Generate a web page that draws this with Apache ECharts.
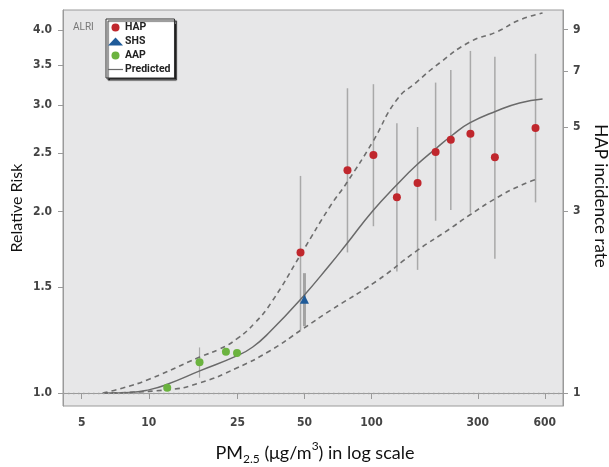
<!DOCTYPE html>
<html><head><meta charset="utf-8">
<script src="https://cdn.jsdelivr.net/npm/echarts@6/dist/echarts.min.js"></script>
<style>html,body{margin:0;padding:0;background:#fff}#c{width:609px;height:467px}</style>
</head><body><div id="c"></div>
<script>
// ---- data ----
const xTicks = [5, 10, 25, 50, 100, 300, 600];
const rrTicks = [1.0, 1.5, 2.0, 2.5, 3.0, 3.5, 4.0];
const rateTicks = [1, 3, 5, 7, 9];
const xRange = [4.12, 724];
const rrRange = [0.9516, 4.314];
const rateRange = [0.9245, 10.14];

const hapPM = [48, 78, 102, 130, 161, 194, 227, 278, 358, 545];
const hapRR = [1.71, 2.34, 2.48, 2.11, 2.23, 2.51, 2.63, 2.69, 2.46, 2.75];
const hapLo = [1.27, 1.71, 1.89, 1.59, 1.60, 1.93, 2.01, 1.99, 1.67, 2.07];
const hapHi = [2.29, 3.20, 3.25, 2.80, 2.76, 3.27, 3.43, 3.69, 3.61, 3.65];

const shsPM = [50];
const shsRR = [1.43];
const shsLo = [1.29];
const shsHi = [1.58];

const aapPM = [12.1, 16.9, 22.2, 24.9];
const aapRR = [1.02, 1.125, 1.17, 1.165];
const aapBarPM = [16.9];
const aapBarLo = [1.06];
const aapBarHi = [1.19];

const predPM = [6.22, 8.22, 10.1, 12.04, 16.93, 24.83, 29.3, 34.9, 49.1, 64.9, 77.3, 101.2, 129.6, 159.4, 196, 231, 276, 364, 462, 586];
const predRR = [1.0, 1.002, 1.013, 1.033, 1.088, 1.152, 1.192, 1.262, 1.443, 1.630, 1.766, 2.003, 2.212, 2.387, 2.548, 2.677, 2.803, 2.934, 3.025, 3.071];

const upperPM = [6.22, 7.64, 10.1, 16.93, 20.82, 24.83, 29.9, 35.6, 48.6, 64.9, 77.3, 101.2, 129.6, 159.4, 202, 276, 364, 462, 586];
const upperRR = [1.0, 1.019, 1.055, 1.147, 1.183, 1.229, 1.306, 1.415, 1.707, 2.034, 2.229, 2.607, 3.060, 3.277, 3.524, 3.818, 3.967, 4.153, 4.265];

const lowerPM = [6.22, 12.04, 16.93, 24.83, 34.9, 49.1, 64.9, 105.4, 159.4, 224, 276, 364, 462, 556];
const lowerRR = [1.0, 1.012, 1.039, 1.100, 1.174, 1.277, 1.368, 1.533, 1.720, 1.870, 1.973, 2.105, 2.204, 2.263];

// ---- helpers ----
const L = Math.log;
function fmtFrom(ticks, dec) {
  return function (v) {
    for (const t of ticks) if (Math.abs(L(t) - v) < 1e-6) return dec ? t.toFixed(dec) : String(t);
    return '';
  };
}
function pairs(xs, ys) { return xs.map((x, i) => [L(x), L(ys[i])]); }
function barData(xs, lo, hi) { return xs.map((x, i) => [L(x), L(lo[i]), L(hi[i])]); }
function barRenderer(color, width) {
  return function (params, api) {
    const p1 = api.coord([api.value(0), api.value(1)]);
    const p2 = api.coord([api.value(0), api.value(2)]);
    return { type: 'line', shape: { x1: p1[0], y1: p1[1], x2: p2[0], y2: p2[1] },
             style: { stroke: color, lineWidth: width } };
  };
}

const tickFont = "'Liberation Sans Narrow', 'DejaVu Sans Condensed', sans-serif";
const legendFont = "'Liberation Sans Narrow', Roboto, sans-serif";
const titleFont = "Lato, 'Open Sans', sans-serif";

const chart = echarts.init(document.getElementById('c'), null, { renderer: 'canvas' });
chart.setOption({
  animation: false,
  backgroundColor: '#ffffff',
  title: { text: 'ALRI', left: 68, top: 17,
           textStyle: { fontSize: 10, color: '#777', fontWeight: 'normal', fontFamily: legendFont } },
  legend: {
    data: [
      { name: 'HAP', icon: 'circle' },
      { name: 'SHS', icon: 'triangle' },
      { name: 'AAP', icon: 'circle' },
      { name: 'Predicted', icon: 'path://M0,0 L16,0 L16,1.3 L0,1.3 Z' }
    ],
    orient: 'vertical', left: 106, top: 19,
    backgroundColor: '#ffffff', borderColor: '#333', borderWidth: 1,
    shadowColor: 'rgba(0,0,0,0.85)', shadowBlur: 1, shadowOffsetX: 2, shadowOffsetY: 2,
    padding: [3, 4, 3, 2], itemGap: 3, itemWidth: 15, itemHeight: 8,
    textStyle: { fontSize: 10.5, lineHeight: 11, fontWeight: 'bold', color: '#222', fontFamily: legendFont, padding: [0, 0, 0, -3] }
  },
  grid: { left: 63, right: 46, top: 10, bottom: 61, show: true,
          backgroundColor: '#e7e7e8', borderColor: '#9a9a9a', borderWidth: 1, outerBoundsMode: 'none' },
  xAxis: {
    type: 'value', min: L(xRange[0]), max: L(xRange[1]),
    axisLine: { show: true, lineStyle: { color: '#9a9a9a' } },
    axisTick: { show: true, length: 6, lineStyle: { color: '#9a9a9a' }, customValues: xTicks.map(L) },
    axisLabel: { customValues: xTicks.map(L), formatter: fmtFrom(xTicks, 0), margin: 11,
                 fontSize: 12, fontWeight: 'bold', color: '#444', fontFamily: tickFont },
    splitLine: { show: false }
  },
  yAxis: [
    {
      type: 'value', min: L(rrRange[0]), max: L(rrRange[1]), position: 'left',
      axisLine: { show: true, lineStyle: { color: '#9a9a9a' } },
      axisTick: { show: true, length: 5, lineStyle: { color: '#9a9a9a' }, customValues: rrTicks.map(L) },
      axisLabel: { customValues: rrTicks.map(L), formatter: fmtFrom(rrTicks, 1), margin: 11,
                   fontSize: 12, fontWeight: 'bold', color: '#444', fontFamily: tickFont },
      splitLine: { show: false }
    },
    {
      type: 'value', min: L(rateRange[0]), max: L(rateRange[1]), position: 'right',
      axisLine: { show: true, lineStyle: { color: '#9a9a9a' } },
      axisTick: { show: true, length: 5, lineStyle: { color: '#9a9a9a' }, customValues: rateTicks.map(L) },
      axisLabel: { customValues: rateTicks.map(L), formatter: fmtFrom(rateTicks, 0), margin: 10,
                   fontSize: 12, fontWeight: 'bold', color: '#444', fontFamily: tickFont },
      splitLine: { show: false }
    }
  ],
  graphic: [
    { type: 'text', x: 17, y: 208, rotation: Math.PI / 2,
      style: { text: 'Relative Risk', fontSize: 16, fontFamily: titleFont, fill: '#111', align: 'center', verticalAlign: 'middle' } },
    { type: 'text', x: 600, y: 196, rotation: -Math.PI / 2,
      style: { text: 'HAP incidence rate', fontSize: 17, fontFamily: titleFont, fill: '#111', align: 'center', verticalAlign: 'middle' } },
    { type: 'text', x: 315, y: 453,
      style: { text: '{a|PM}{s|2.5}{a| (μg/m}{p|3}{a|) in log scale}', align: 'center', verticalAlign: 'middle',
        fill: '#111',
        rich: {
          a: { fontSize: 18, lineHeight: 25, verticalAlign: 'middle', fontFamily: titleFont, fill: '#111' },
          s: { fontSize: 12, lineHeight: 25, verticalAlign: 'bottom', fontFamily: titleFont, fill: '#111' },
          p: { fontSize: 12, lineHeight: 25, verticalAlign: 'top', fontFamily: titleFont, fill: '#111' }
        } } }
  ],
  series: [
    { name: 'HAPbars', type: 'custom', renderItem: barRenderer('#a9a9a9', 1.5),
      data: barData(hapPM, hapLo, hapHi), encode: { x: 0, y: [1, 2] }, z: 1, silent: true },
    { name: 'SHSbars', type: 'custom', renderItem: barRenderer('#a3a3a3', 3),
      data: barData(shsPM, shsLo, shsHi), encode: { x: 0, y: [1, 2] }, z: 1, silent: true },
    { name: 'AAPbars', type: 'custom', renderItem: barRenderer('#a9a9a9', 1.2),
      data: barData(aapBarPM, aapBarLo, aapBarHi), encode: { x: 0, y: [1, 2] }, z: 1, silent: true },
    { name: 'Upper', type: 'line', data: pairs(upperPM, upperRR), smooth: 0.5, symbol: 'none',
      lineStyle: { color: '#6e6e6e', width: 1.6, type: [5, 4] }, z: 2 },
    { name: 'Lower', type: 'line', data: pairs(lowerPM, lowerRR), smooth: 0.5, symbol: 'none',
      lineStyle: { color: '#6e6e6e', width: 1.6, type: [5, 4] }, z: 2 },
    { name: 'Predicted', type: 'line', data: pairs(predPM, predRR), smooth: 0.5, symbol: 'none',
      itemStyle: { color: '#6a6a6a' },
      lineStyle: { color: '#6a6a6a', width: 1.5 }, z: 3,
      markLine: { silent: true, symbol: 'none', label: { show: false },
                  lineStyle: { type: [1.5, 3.5], color: '#a0a0a0', width: 1.3 },
                  data: [{ yAxis: 0 }] } },
    { name: 'HAP', type: 'scatter', data: pairs(hapPM, hapRR), symbol: 'circle', symbolSize: 8,
      itemStyle: { color: '#c0272d', opacity: 1 }, z: 5 },
    { name: 'SHS', type: 'scatter', data: pairs(shsPM, shsRR), symbol: 'triangle', symbolSize: 9,
      itemStyle: { color: '#1f5b99', opacity: 1 }, z: 5 },
    { name: 'AAP', type: 'scatter', data: pairs(aapPM, aapRR), symbol: 'circle', symbolSize: 8,
      itemStyle: { color: '#6bb33f', opacity: 1 }, z: 5 }
  ]
});
</script>
</body></html>
